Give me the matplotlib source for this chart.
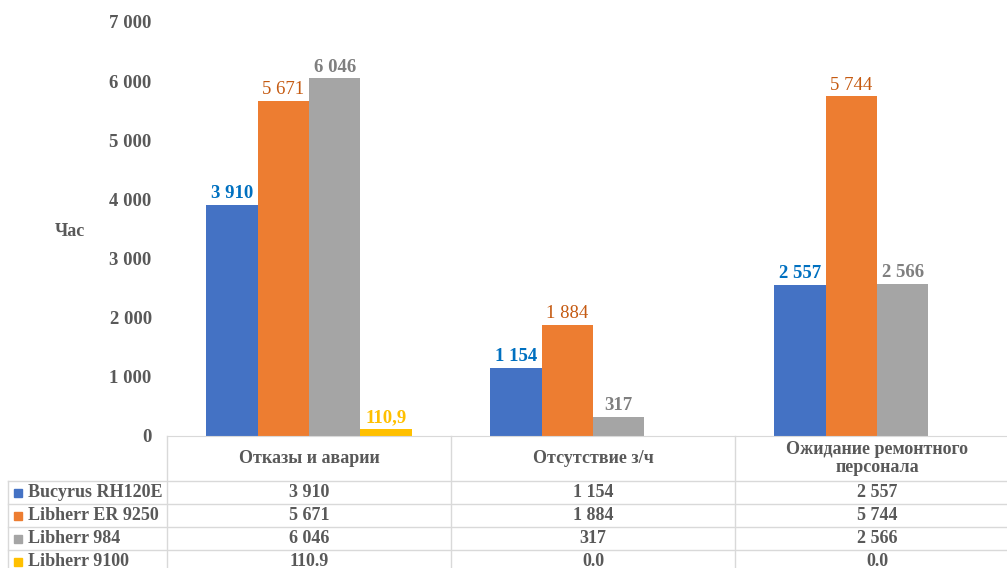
import numpy as np
import matplotlib.pyplot as plt
from matplotlib.transforms import blended_transform_factory
from matplotlib.lines import Line2D
from matplotlib.patches import Rectangle

# Данные
categories = ['Отказы и аварии', 'Отсутствие з/ч', 'Ожидание ремонтного\nперсонала']
series = ['Bucyrus RH120E', 'Libherr ER 9250', 'Libherr 984', 'Libherr 9100']
bucyrus = [3910, 1154, 2557]
er9250 = [5671, 1884, 5744]
l984 = [6046, 317, 2566]
l9100 = [110.9, 0.0, 0.0]

bar_colors = ['#4472C4', '#ED7D31', '#A5A5A5', '#FFC000']
label_colors = ['#0070C0', '#C55A11', '#7F7F7F', '#FFC000']
label_weights = ['bold', 'normal', 'bold', 'bold']
text_gray = '#595959'
grid_gray = '#D9D9D9'

plt.rcParams['font.family'] = ['Liberation Serif', 'DejaVu Serif']

W, H = 1007, 568
fig = plt.figure(figsize=(W / 100, H / 100), dpi=100)
ax = fig.add_axes([167 / W, 132 / H, 852 / W, 414 / H])


def fy(py):
    # пиксель сверху -> доля фигуры
    return (H - py) / H


def fmt_space(v):
    return f'{v:,.0f}'.replace(',', ' ')


def fmt_label(v):
    if v != int(v):
        return f'{v:.1f}'.replace('.', ',')
    return fmt_space(v)


def fmt_table(v):
    if v < 1000 and v != int(v) or v == 0:
        return f'{v:.1f}'
    return fmt_space(v)


data = [bucyrus, er9250, l984, l9100]
x = np.arange(len(categories))
bw = 0.1813
offsets = (np.arange(4) - 1.5) * bw

for i, vals in enumerate(data):
    bars = ax.bar(x + offsets[i], vals, width=bw, color=bar_colors[i])
    for b, v in zip(bars, vals):
        if v == 0:
            continue
        ax.annotate(fmt_label(v), (b.get_x() + b.get_width() / 2, v),
                    xytext=(0, 2), textcoords='offset points',
                    ha='center', va='bottom', fontsize=13.5,
                    color=label_colors[i], fontweight=label_weights[i])

ax.set_xlim(-0.5, 2.5)
ax.set_ylim(0, 7000)
ax.set_yticks(np.arange(0, 7001, 1000))
ax.set_yticklabels([fmt_space(t) for t in np.arange(0, 7001, 1000)],
                   fontsize=13.5, fontweight='bold', color=text_gray)
ax.tick_params(axis='y', length=0, pad=11)
ax.set_xticks([])
for s in ['top', 'right', 'left']:
    ax.spines[s].set_visible(False)
ax.spines['bottom'].set_color(grid_gray)

fig.text(70 / W, fy(232), 'Час', fontsize=13, fontweight='bold',
         color=text_gray, ha='center', va='center')

# Таблица данных под графиком
tr = blended_transform_factory(ax.transData, fig.transFigure)
row_edges = [436, 481, 504, 527, 550, 573]

# вертикальные линии
for xb in [-0.5, 0.5, 1.5, 2.5]:
    fig.add_artist(Line2D([xb, xb], [fy(436), fy(573)], transform=tr,
                          color=grid_gray, lw=1))
fig.add_artist(Line2D([8 / W, 8 / W], [fy(481), fy(573)],
                      transform=fig.transFigure, color=grid_gray, lw=1))
# горизонтальные линии
for ry in row_edges[1:-1]:
    fig.add_artist(Line2D([8 / W, 1.0], [fy(ry), fy(ry)],
                          transform=fig.transFigure, color=grid_gray, lw=1))

# заголовки категорий
for xi, cat in zip(x, categories):
    fig.text(xi, fy((row_edges[0] + row_edges[1]) / 2), cat, transform=tr,
             ha='center', va='center', fontsize=13, fontweight='bold',
             color=text_gray, linespacing=1.05)

# строки серий
for i, (name, vals) in enumerate(zip(series, data)):
    yc = fy((row_edges[i + 1] + row_edges[i + 2]) / 2)
    fig.add_artist(Rectangle((14 / W, yc - 4 / H), 8 / W, 8 / H,
                             transform=fig.transFigure, color=bar_colors[i]))
    fig.text(28 / W, yc, name, ha='left', va='center', fontsize=13,
             fontweight='bold', color=text_gray)
    for xi, v in zip(x, vals):
        fig.text(xi, yc, fmt_table(v), transform=tr, ha='center', va='center',
                 fontsize=13, fontweight='bold', color=text_gray)

fig.savefig('out.png', dpi=100)
